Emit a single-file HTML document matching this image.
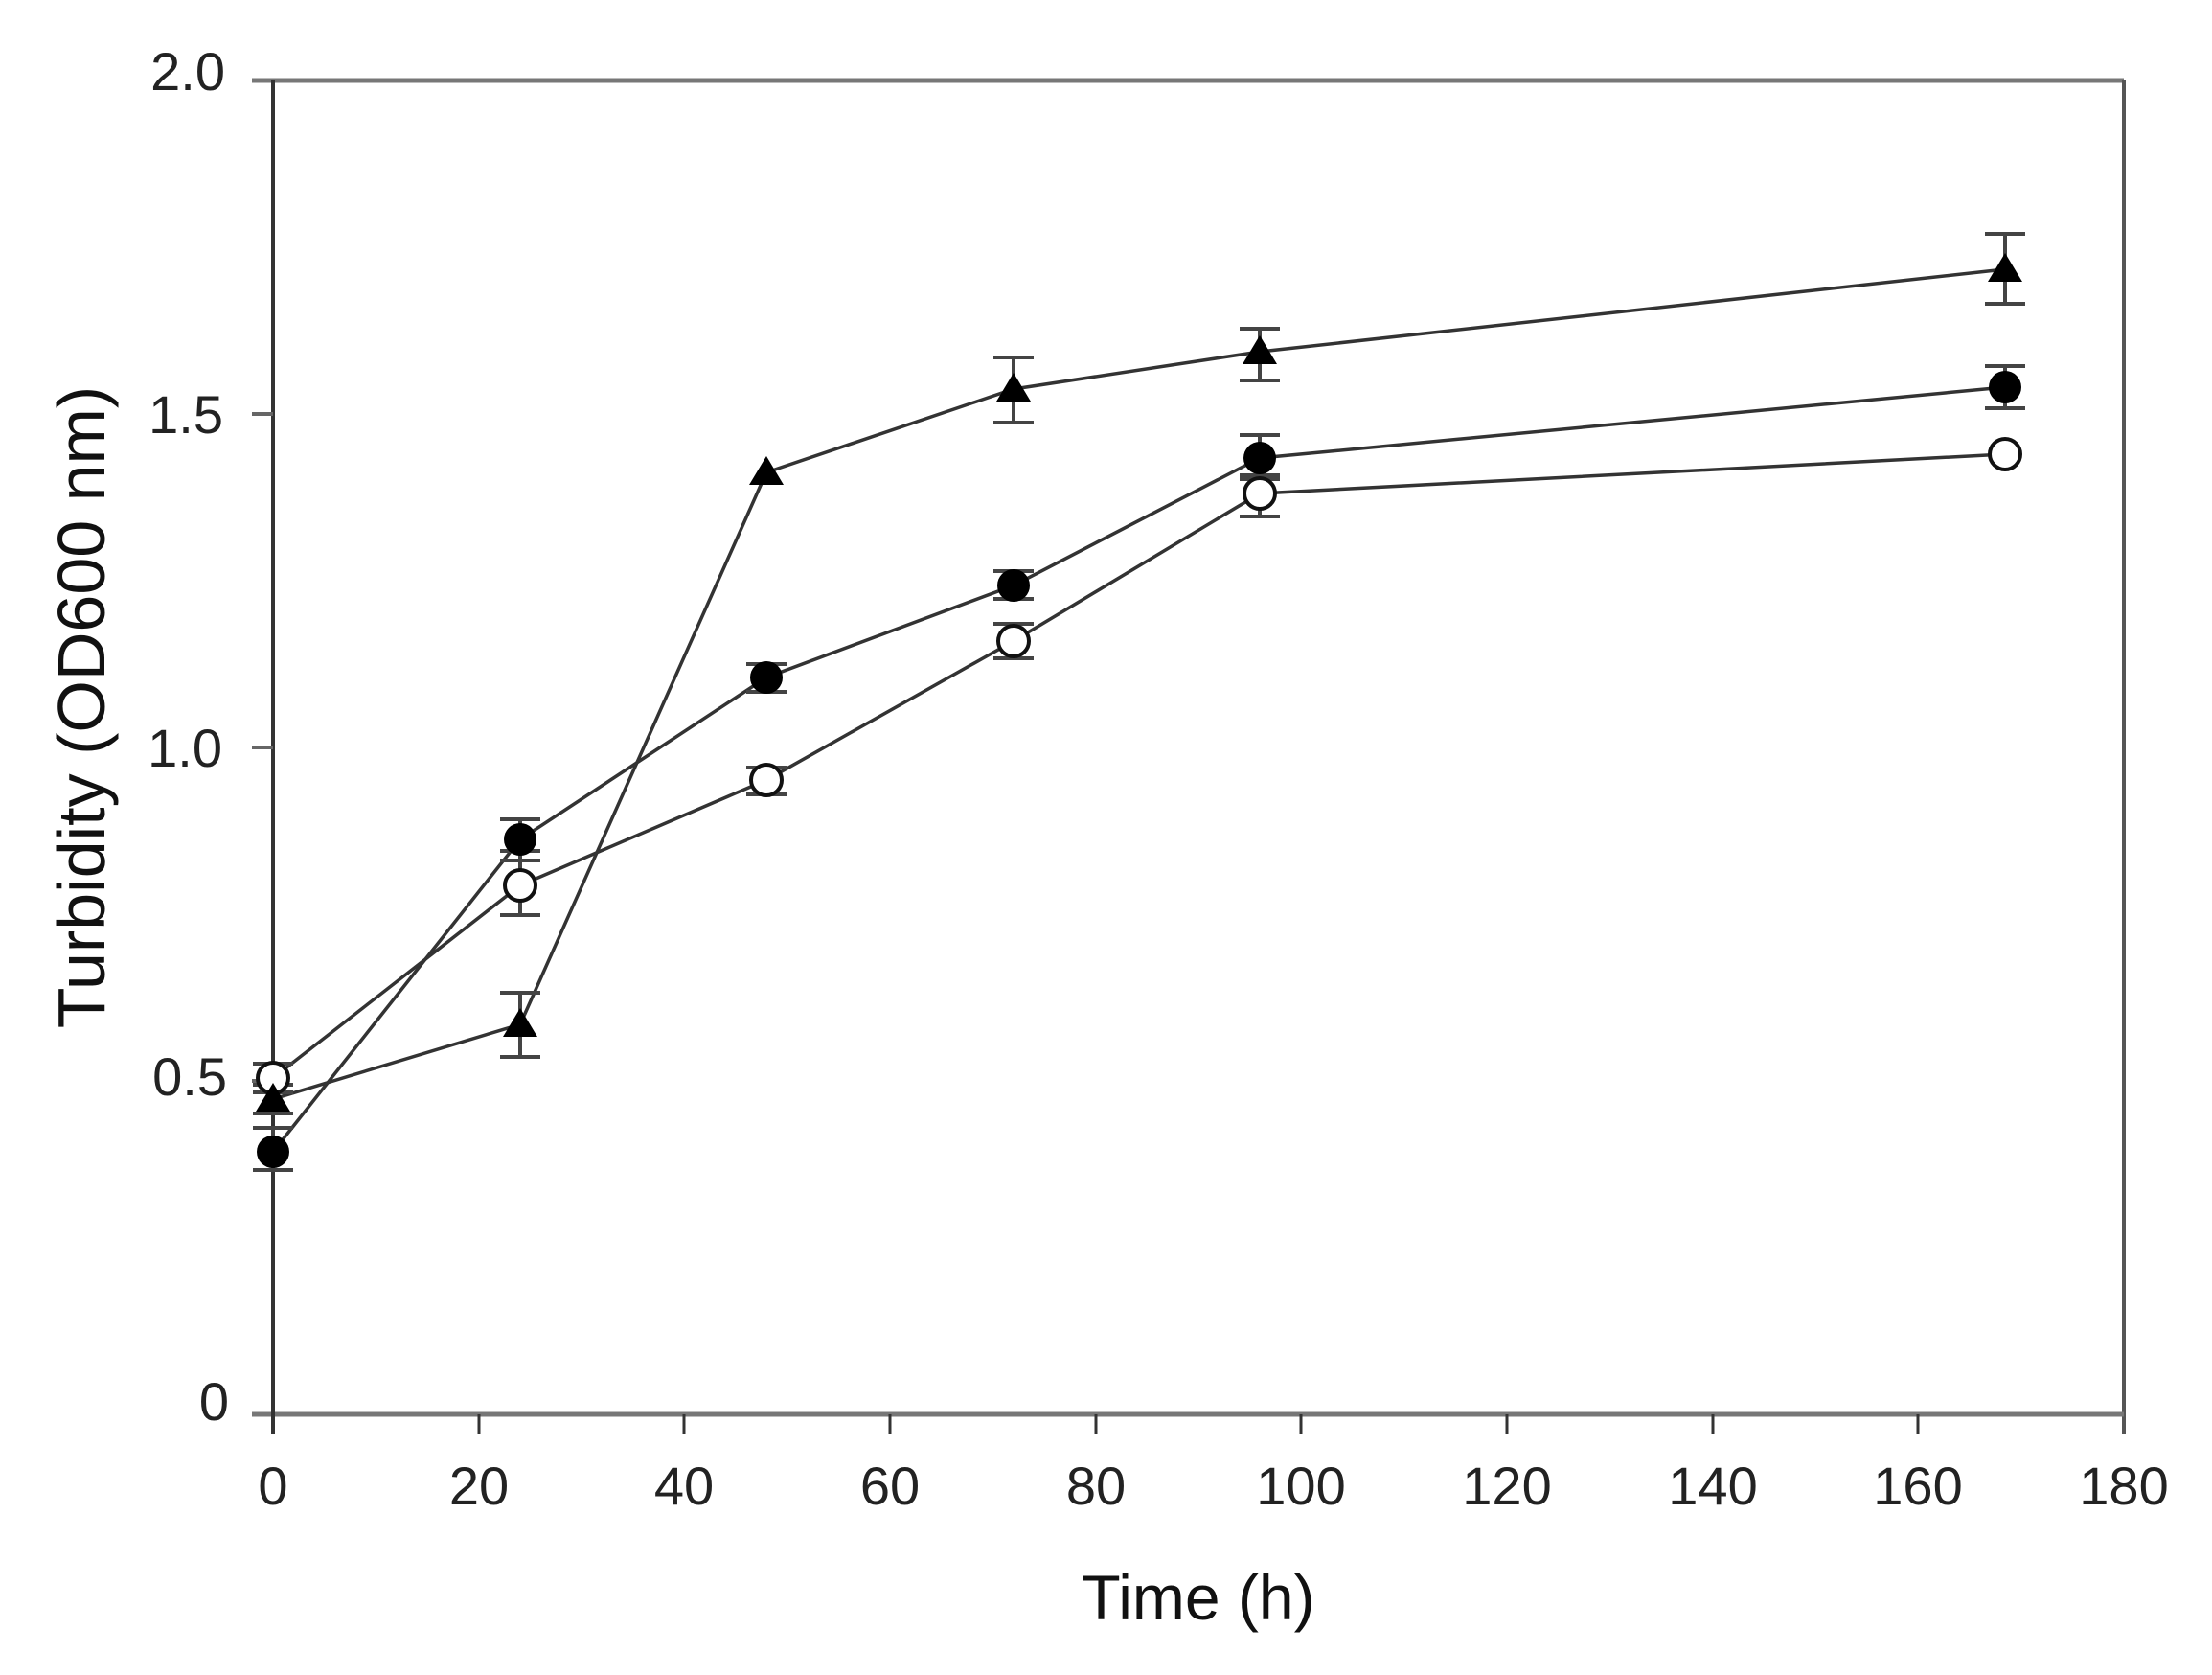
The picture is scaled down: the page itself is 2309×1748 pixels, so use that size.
<!DOCTYPE html>
<html><head><meta charset="utf-8"><style>html,body{margin:0;padding:0;background:#fff}svg{display:block}</style></head>
<body>
<svg width="2309" height="1748" viewBox="0 0 2309 1748" xmlns="http://www.w3.org/2000/svg" font-family="Liberation Sans, Arial, sans-serif">
<rect width="2309" height="1748" fill="#fff"/>
<line x1="263" y1="84" x2="2217" y2="84" stroke="#777" stroke-width="5"/>
<line x1="2217" y1="84" x2="2217" y2="1497" stroke="#555" stroke-width="4"/>
<line x1="263" y1="1476" x2="2217" y2="1476" stroke="#777" stroke-width="5"/>
<line x1="285" y1="84" x2="285" y2="1497" stroke="#333" stroke-width="4"/>
<g stroke="#666" stroke-width="4">
<line x1="263" y1="432" x2="285" y2="432"/>
<line x1="263" y1="780" x2="285" y2="780"/>
<line x1="263" y1="1128" x2="285" y2="1128"/>
</g>
<g stroke="#333" stroke-width="3">
<line x1="500" y1="1476" x2="500" y2="1497"/>
<line x1="714" y1="1476" x2="714" y2="1497"/>
<line x1="929" y1="1476" x2="929" y2="1497"/>
<line x1="1144" y1="1476" x2="1144" y2="1497"/>
<line x1="1358" y1="1476" x2="1358" y2="1497"/>
<line x1="1573" y1="1476" x2="1573" y2="1497"/>
<line x1="1788" y1="1476" x2="1788" y2="1497"/>
<line x1="2002" y1="1476" x2="2002" y2="1497"/>
</g>
<g font-size="56" fill="#222" text-anchor="end">
<text x="235" y="94">2.0</text>
<text x="233" y="452">1.5</text>
<text x="232" y="800">1.0</text>
<text x="237" y="1143">0.5</text>
<text x="239" y="1482">0</text>
</g>
<g font-size="56" fill="#222" text-anchor="middle">
<text x="285" y="1570">0</text>
<text x="500" y="1570">20</text>
<text x="714" y="1570">40</text>
<text x="929" y="1570">60</text>
<text x="1144" y="1570">80</text>
<text x="1358" y="1570">100</text>
<text x="1573" y="1570">120</text>
<text x="1788" y="1570">140</text>
<text x="2002" y="1570">160</text>
<text x="2217" y="1570">180</text>
</g>
<text x="1251" y="1690" font-size="66" fill="#111" text-anchor="middle">Time (h)</text>
<text transform="translate(109,738) rotate(-90)" font-size="70" fill="#111" text-anchor="middle">Turbidity (OD600 nm)</text>

<g fill="none" stroke="#333" stroke-width="3.5">
<polyline points="285,1147 543,1069 800,493 1058,406 1315,367 2093,281"/>
<polyline points="285,1202 543,876 800,707 1058,611 1315,478 2093,404"/>
<polyline points="285,1125 543,924 800,814 1058,669 1315,515 2093,474"/>
</g>
<g stroke="#444" stroke-width="4">
<path d="M285,1132V1162M264,1132H306M264,1162H306"/>
<path d="M543,1036V1103M522,1036H564M522,1103H564"/>
<path d="M1058,373V441M1037,373H1079M1037,441H1079"/>
<path d="M1315,343V397M1294,343H1336M1294,397H1336"/>
<path d="M2093,244V317M2072,244H2114M2072,317H2114"/>
<path d="M285,1177V1221M264,1177H306M264,1221H306"/>
<path d="M543,855V898M522,855H564M522,898H564"/>
<path d="M800,693V722M779,693H821M779,722H821"/>
<path d="M1058,596V625M1037,596H1079M1037,625H1079"/>
<path d="M1315,454V500M1294,454H1336M1294,500H1336"/>
<path d="M2093,382V426M2072,382H2114M2072,426H2114"/>
<path d="M285,1110V1140M264,1110H306M264,1140H306"/>
<path d="M543,888V955M522,888H564M522,955H564"/>
<path d="M800,801V829M779,801H821M779,829H821"/>
<path d="M1058,651V687M1037,651H1079M1037,687H1079"/>
<path d="M1315,496V539M1294,496H1336M1294,539H1336"/>
</g>
<g fill="#fff" stroke="#111" stroke-width="4">
<circle cx="285" cy="1125" r="16"/>
<circle cx="543" cy="924" r="16"/>
<circle cx="800" cy="814" r="16"/>
<circle cx="1058" cy="669" r="16"/>
<circle cx="1315" cy="515" r="16"/>
<circle cx="2093" cy="474" r="16"/>
</g>
<g fill="#000">
<circle cx="285" cy="1202" r="17"/>
<circle cx="543" cy="876" r="17"/>
<circle cx="800" cy="707" r="17"/>
<circle cx="1058" cy="611" r="17"/>
<circle cx="1315" cy="478" r="17"/>
<circle cx="2093" cy="404" r="17"/>
</g>
<g fill="#000">
<polygon points="285,1130 303,1160 267,1160"/>
<polygon points="543,1052 561,1082 525,1082"/>
<polygon points="800,476 818,506 782,506"/>
<polygon points="1058,389 1076,419 1040,419"/>
<polygon points="1315,350 1333,380 1297,380"/>
<polygon points="2093,264 2111,294 2075,294"/>
</g>
</svg>
</body></html>
